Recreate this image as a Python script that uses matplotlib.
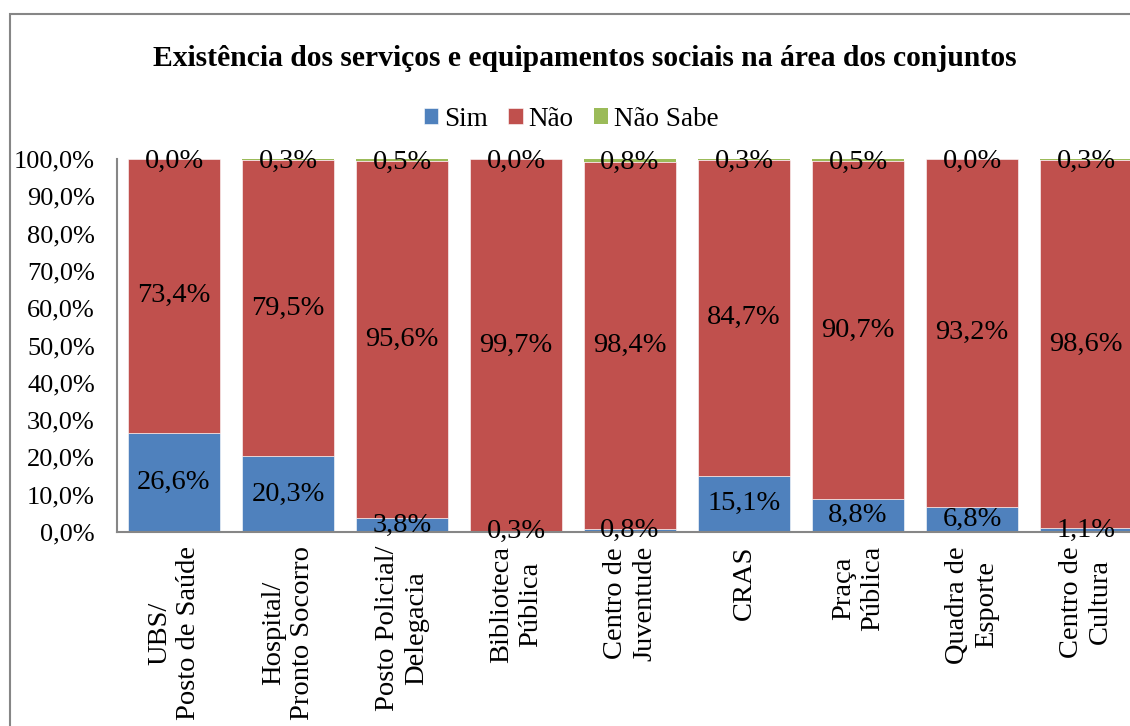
import matplotlib
matplotlib.use("Agg")
import matplotlib.pyplot as plt
from matplotlib.patches import Rectangle
import numpy as np

# === Data ===
categorias = ["UBS/\nPosto de Saúde", "Hospital/\nPronto Socorro", "Posto Policial/\nDelegacia",
              "Biblioteca\nPública", "Centro de\nJuventude", "CRAS", "Praça\nPública",
              "Quadra de\nEsporte", "Centro de\nCultura"]
sim = [26.6, 20.3, 3.8, 0.3, 0.8, 15.1, 8.8, 6.8, 1.1]
nao = [73.4, 79.5, 95.6, 99.7, 98.4, 84.7, 90.7, 93.2, 98.6]
nao_sabe = [0.0, 0.3, 0.5, 0.0, 0.8, 0.3, 0.5, 0.0, 0.3]

plt.rcParams['font.family'] = ['Liberation Serif', 'DejaVu Serif']

fig = plt.figure(figsize=(11.3, 7.26), dpi=100)
ax = fig.add_axes([117/1130, 194/726, 1026/1130, 373/726])

x = np.arange(len(categorias))
sim = np.array(sim)
nao = np.array(nao)
nao_sabe = np.array(nao_sabe)

w = 0.8
b1 = ax.bar(x, sim, w, color='#4F81BD', label='Sim', edgecolor='white', linewidth=0.4)
b2 = ax.bar(x, nao, w, bottom=sim, color='#C0504D', label='Não', edgecolor='white', linewidth=0.4)
b3 = ax.bar(x, nao_sabe, w, bottom=sim + nao, color='#9BBB59', label='Não Sabe', linewidth=0)

def fmt(v):
    return f"{v:.1f}%".replace('.', ',')

for i in x:
    ax.text(i, sim[i] / 2, fmt(sim[i]), ha='center', va='center', fontsize=20.5)
    ax.text(i, sim[i] + nao[i] / 2, fmt(nao[i]), ha='center', va='center', fontsize=20.5)
    ax.text(i, sim[i] + nao[i] + nao_sabe[i] / 2 - 0.6, fmt(nao_sabe[i]), ha='center', va='center', fontsize=20.5)

ax.set_xlim(-0.5, len(categorias) - 0.5)
ax.set_ylim(0, 100)
ax.set_yticks(np.arange(0, 101, 10))
ax.set_yticklabels([fmt(v) for v in np.arange(0, 101, 10)], fontsize=19)
ax.set_xticks(x)
ax.set_xticklabels(categorias, rotation=90, fontsize=20.5, linespacing=1.2)
ax.tick_params(axis='y', length=0, pad=16)
ax.tick_params(axis='x', length=0, pad=10)

for s in ['top', 'right']:
    ax.spines[s].set_visible(False)
for s in ['left', 'bottom']:
    ax.spines[s].set_color('#868686')
    ax.spines[s].set_linewidth(1.5)

fig.text(585/1130, 1 - 58/726, "Existência dos serviços e equipamentos sociais na área dos conjuntos",
         ha='center', va='center', fontsize=21.3, fontweight='bold')
fig.legend(handles=[b1, b2, b3], loc='center', bbox_to_anchor=(571/1130, 1 - 119/726), ncol=3,
           frameon=False, fontsize=19.5, handlelength=0.55, handleheight=0.55,
           handletextpad=0.2, columnspacing=0.75)

fig.patches.append(Rectangle((10/1130, -0.05), 1.2, (726 - 14)/726 + 0.05, transform=fig.transFigure,
                             fill=False, edgecolor='#868686', linewidth=1.5))

plt.savefig('out.png', dpi=100)
